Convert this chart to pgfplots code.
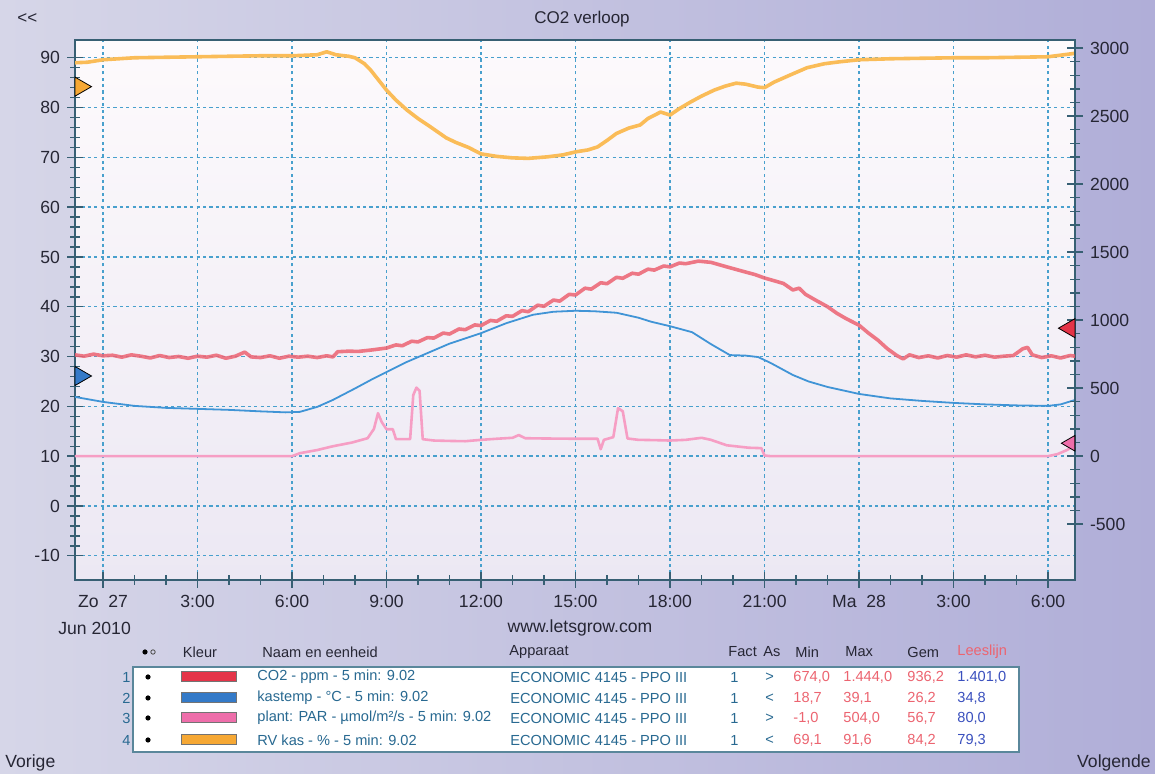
\documentclass[border=0pt]{standalone}
\usepackage{pgfplots}
\pgfplotsset{compat=1.18}
\usepackage{fontspec}
\setmainfont{Liberation Sans}

\definecolor{bgL}{RGB}{214,214,232}
\definecolor{bgR}{RGB}{176,174,216}
\definecolor{plottop}{RGB}{253,250,252}
\definecolor{plotbot}{RGB}{236,232,243}
\definecolor{gridblue}{RGB}{72,160,205}
\definecolor{axline}{RGB}{55,95,115}
\definecolor{txt}{RGB}{38,38,52}
\definecolor{teal}{RGB}{40,105,145}
\definecolor{lnorange}{RGB}{250,188,88}
\definecolor{lnred}{RGB}{236,98,114}
\definecolor{lnblue}{RGB}{64,148,214}
\definecolor{lnpink}{RGB}{246,158,196}
\definecolor{swred}{RGB}{228,52,72}
\definecolor{swblue}{RGB}{52,122,200}
\definecolor{swpink}{RGB}{238,110,170}
\definecolor{sworange}{RGB}{246,168,52}
\definecolor{valred}{RGB}{236,100,112}
\definecolor{valblue}{RGB}{58,80,190}
\definecolor{boxc}{RGB}{90,135,155}

\pgfplotsset{
  chart/.style={
    at={(37.5pt,97pt)}, anchor=south west,
    scale only axis, width=500pt, height=270pt,
    xmin=-0.889, xmax=30.857,
    axis line style={axline, line width=0.8pt},
    tick align=center, major tick length=8pt, minor tick length=5pt,
    tick style={axline, line width=0.7pt},
    ticklabel style={font=\fontsize{8.8}{10}\selectfont, text=txt},
    /pgf/number format/assume math mode=true,
    /pgf/number format/1000 sep={},
  }
}

\begin{document}
\begin{tikzpicture}
\fill[left color=bgL, right color=bgR] (0,0) rectangle (577.5pt,387pt);

% left axis: RV kas (%) and kastemp (C)
\begin{axis}[chart,
  ymin=-14.86, ymax=93.57,
  axis background/.style={shade, top color=plottop, bottom color=plotbot},
  xtick={0,3,...,30},
  xticklabels={Zo\ \ 27,3:00,6:00,9:00,12:00,15:00,18:00,21:00,Ma\ \ 28,3:00,6:00},
  minor x tick num=2,
  ytick={-10,0,...,90}, minor y tick num=4,
  xtick pos=bottom, ytick pos=left,
  grid=major,
  major grid style={gridblue, line width=0.7pt, dash pattern=on 1.6pt off 1.6pt},
]
% RV kas
\addplot[lnorange, line width=1.8pt, line join=round] coordinates {
 (-0.89,89.0) (-0.5,89.1) (0,89.6) (0.5,89.8) (1,90.0) (2,90.1) (3,90.2) (4,90.3)
 (5,90.4) (6,90.4) (6.8,90.6) (7.1,91.2) (7.4,90.6) (7.8,90.3) (8.0,90.0) (8.3,88.8)
 (8.5,87.5) (8.75,85.5) (9,83.5) (9.3,81.5) (9.65,79.5) (10.0,77.8) (10.4,76.1)
 (10.9,73.9) (11.2,73.0) (11.6,72.0) (12,70.7) (12.5,70.2) (13,69.9) (13.5,69.8)
 (14.1,70.1) (14.6,70.5) (15,71.1) (15.4,71.5) (15.7,72.1) (16.0,73.4) (16.3,74.8)
 (16.7,75.9) (17.05,76.5) (17.3,77.8) (17.7,79.1) (18.0,78.5) (18.3,79.8) (18.65,81.1)
 (19.0,82.3) (19.4,83.5) (19.75,84.3) (20.1,84.9) (20.4,84.7) (20.8,84.1) (21.0,84.0)
 (21.3,85.1) (21.8,86.5) (22.35,88.0) (22.9,88.8) (23.4,89.2) (24,89.6) (25,89.8)
 (26,89.9) (27,90.0) (28,90.0) (29,90.1) (30,90.2) (30.5,90.6) (30.86,90.9)
};
% kastemp
\addplot[lnblue, line width=0.9pt, line join=round] coordinates {
 (-0.89,21.9) (0,20.9) (1,20.1) (2,19.7) (3,19.5) (4,19.3) (5,19.0) (5.8,18.8)
 (6.25,18.9) (6.8,19.9) (7.3,21.3) (8,23.6) (8.5,25.3) (9,26.9) (9.6,28.8) (10.3,30.7)
 (11,32.6) (12,34.7) (12.8,36.7) (13.65,38.4) (14.3,39.0) (15,39.2) (15.6,39.1)
 (16.3,38.8) (17,37.8) (17.4,37.0) (18,36.1) (18.7,34.9) (19.3,32.5) (19.9,30.3)
 (20.4,30.2) (20.8,29.9) (21.2,28.7) (21.9,26.3) (22.4,25.0) (23,23.9) (24,22.5)
 (25,21.6) (26,21.1) (27,20.7) (28,20.4) (29,20.2) (30,20.1) (30.4,20.4) (30.86,21.3)
};
% reading markers on the left edge
\addplot[only marks, mark=triangle*, mark size=5.5pt, mark options={rotate=-90, draw=none, fill=sworange}]
  coordinates {(-0.714,84.2)};
\addplot[only marks, mark=triangle*, mark size=5.5pt, mark options={rotate=-90, draw=none, fill=swblue}]
  coordinates {(-0.714,26.1)};
\end{axis}

% right axis: CO2 (ppm) and PAR
\begin{axis}[chart,
  ymin=-910.4, ymax=3060,
  hide x axis, axis y line*=right,
  ytick={-500,0,...,3000}, minor y tick num=4,
]
% plant PAR
\addplot[lnpink, line width=1.3pt, line join=round] coordinates {
 (-0.89,0) (6.0,0) (6.25,22) (6.8,45) (7.3,73) (7.9,100) (8.4,132) (8.6,200)
 (8.73,316) (8.85,250) (9.0,198) (9.2,198) (9.3,125) (9.75,125) (9.85,450) (9.95,504)
 (10.05,480) (10.15,125) (10.5,115) (11,112) (11.5,110) (12,120) (12.5,128) (13,135)
 (13.2,155) (13.4,132) (14,130) (15,128) (15.7,128) (15.8,51) (15.9,120) (16.2,140)
 (16.35,353) (16.5,330) (16.65,130) (17,120) (17.5,118) (18,115) (18.5,120) (19,135)
 (19.3,120) (19.8,80) (20.5,62) (20.9,59) (21.0,5) (21.2,0) (30.0,0) (30.3,15)
 (30.6,45) (30.86,80)
};
% CO2
\addplot[lnred, opacity=0.85, line width=1.8pt, line join=round] coordinates {
 (-0.89,745) (-0.6,735) (-0.3,750) (0,738) (0.3,742) (0.6,728) (0.9,745) (1.2,735)
 (1.5,722) (1.8,740) (2.1,725) (2.4,733) (2.7,720) (3.0,735) (3.3,728) (3.6,742)
 (3.9,720) (4.2,735) (4.5,765) (4.7,730) (5.0,725) (5.3,738) (5.6,720) (5.9,735)
 (6.2,728) (6.5,735) (6.8,725) (7.1,738) (7.3,730) (7.45,768) (7.8,772) (8.1,770)
 (8.5,780) (9.0,795) (9.3,818) (9.5,812) (9.8,845) (10.0,840) (10.3,872) (10.5,868)
 (10.8,905) (11.0,898) (11.3,935) (11.5,930) (11.8,965) (12.0,960) (12.3,998)
 (12.5,992) (12.8,1032) (13.0,1028) (13.3,1070) (13.5,1062) (13.8,1110) (14.0,1102)
 (14.3,1148) (14.5,1140) (14.8,1190) (15.0,1185) (15.3,1235) (15.5,1228) (15.8,1275)
 (16.0,1268) (16.3,1315) (16.5,1308) (16.8,1345) (17.0,1338) (17.3,1375) (17.5,1368)
 (17.8,1398) (18.0,1392) (18.3,1420) (18.5,1415) (18.9,1434)
 (19.3,1425) (19.8,1392) (20.3,1360) (20.7,1335) (21.0,1310) (21.3,1290) (21.6,1270)
 (21.9,1222) (22.1,1235) (22.3,1190) (22.6,1150) (23.0,1099) (23.3,1050) (23.6,1010)
 (24.0,963) (24.3,905) (24.6,853) (24.9,790) (25.2,740) (25.4,715) (25.6,745) (25.9,725)
 (26.2,738) (26.5,722) (26.8,740) (27.1,728) (27.4,745) (27.7,730) (28.0,742)
 (28.3,728) (28.6,735) (28.9,740) (29.2,790) (29.35,800) (29.5,745) (29.8,725)
 (30.1,738) (30.4,722) (30.7,740) (30.86,735)
};
% reading markers on the right edge
\addplot[only marks, mark=triangle*, mark size=5.5pt, mark options={rotate=90, draw=none, fill=swred}]
  coordinates {(30.68,941)};
\addplot[only marks, mark=triangle*, mark size=4.5pt, mark options={rotate=90, draw=none, fill=swpink}]
  coordinates {(30.71,95)};
\end{axis}

% texts and table, in pixel coordinates of the reference
\begin{scope}[x=0.5pt, y=-0.5pt, yshift=387pt, every node/.style={inner sep=0pt, text=txt}]
\node[font=\fontsize{8.5}{10}\selectfont] at (582,19) {CO2 verloop};
\node[anchor=west, font=\fontsize{8.5}{10}\selectfont] at (17,19) {<\kern0pt<};
\node[anchor=west, font=\fontsize{8.8}{10}\selectfont] at (58,628) {Jun 2010};
\node[font=\fontsize{8.8}{10}\selectfont] at (580,628) {www.letsgrow.com};
\node[anchor=west, font=\fontsize{8.8}{10}\selectfont] at (5,763) {Vorige};
\node[anchor=east, font=\fontsize{8.8}{10}\selectfont] at (1151,763) {Volgende};

\begin{scope}[every node/.append style={font=\fontsize{7.3}{9}\selectfont}]
% header
\fill[black] (145,652) circle (1.3pt);
\draw[black!70, line width=0.4pt] (153,652) circle (1.1pt);
\node at (200,652) {Kleur};
\node[anchor=west] at (262,652) {Naam en eenheid};
\node[anchor=west] at (509,652) {Apparaat};
\node[anchor=west] at (728,652) {Fact};
\node[anchor=west] at (763,652) {As};
\node[anchor=west] at (795,652) {Min};
\node[anchor=west] at (845,652) {Max};
\node[anchor=west] at (907,652) {Gem};
\node[anchor=west, text=valred] at (957,652) {Leeslijn};

\filldraw[fill=white, draw=boxc, line width=0.7pt] (133,667) rectangle (1019,752);

% rows
\foreach \y/\n/\sw/\name/\as/\mn/\mx/\gm/\ls in {
  677/1/swred/{CO2 - ppm - 5 min: 9.02}/>/{674,0}/{1.444,0}/{936,2}/{1.401,0},
  698/2/swblue/{kastemp - °C - 5 min: 9.02}/</{18,7}/{39,1}/{26,2}/{34,8},
  718/3/swpink/{plant: PAR - µmol/m²/s - 5 min: 9.02}/>/{-1,0}/{504,0}/{56,7}/{80,0},
  740/4/sworange/{RV kas - \% - 5 min: 9.02}/</{69,1}/{91,6}/{84,2}/{79,3}}{
  \node[anchor=east, text=teal] at (131,\y) {\n};
  \fill[black] (148,\y) circle (1.3pt);
  \filldraw[fill=\sw, draw=black!55, line width=0.5pt] (181,\y-5) rectangle (236,\y+5);
  \node[anchor=west, text=teal] at (257,\y) {\name};
  \node[anchor=west, text=teal] at (510,\y) {ECONOMIC 4145 - PPO III};
  \node[anchor=west, text=teal] at (730,\y) {1};
  \node[anchor=west, text=teal] at (765,\y) {\as};
  \node[anchor=west, text=valred] at (793,\y) {\mn};
  \node[anchor=west, text=valred] at (843,\y) {\mx};
  \node[anchor=west, text=valred] at (907,\y) {\gm};
  \node[anchor=west, text=valblue] at (957,\y) {\ls};
}
\end{scope}
\end{scope}

\pgfresetboundingbox
\useasboundingbox (0,0) rectangle (577.5pt,387pt);
\end{tikzpicture}
\end{document}
